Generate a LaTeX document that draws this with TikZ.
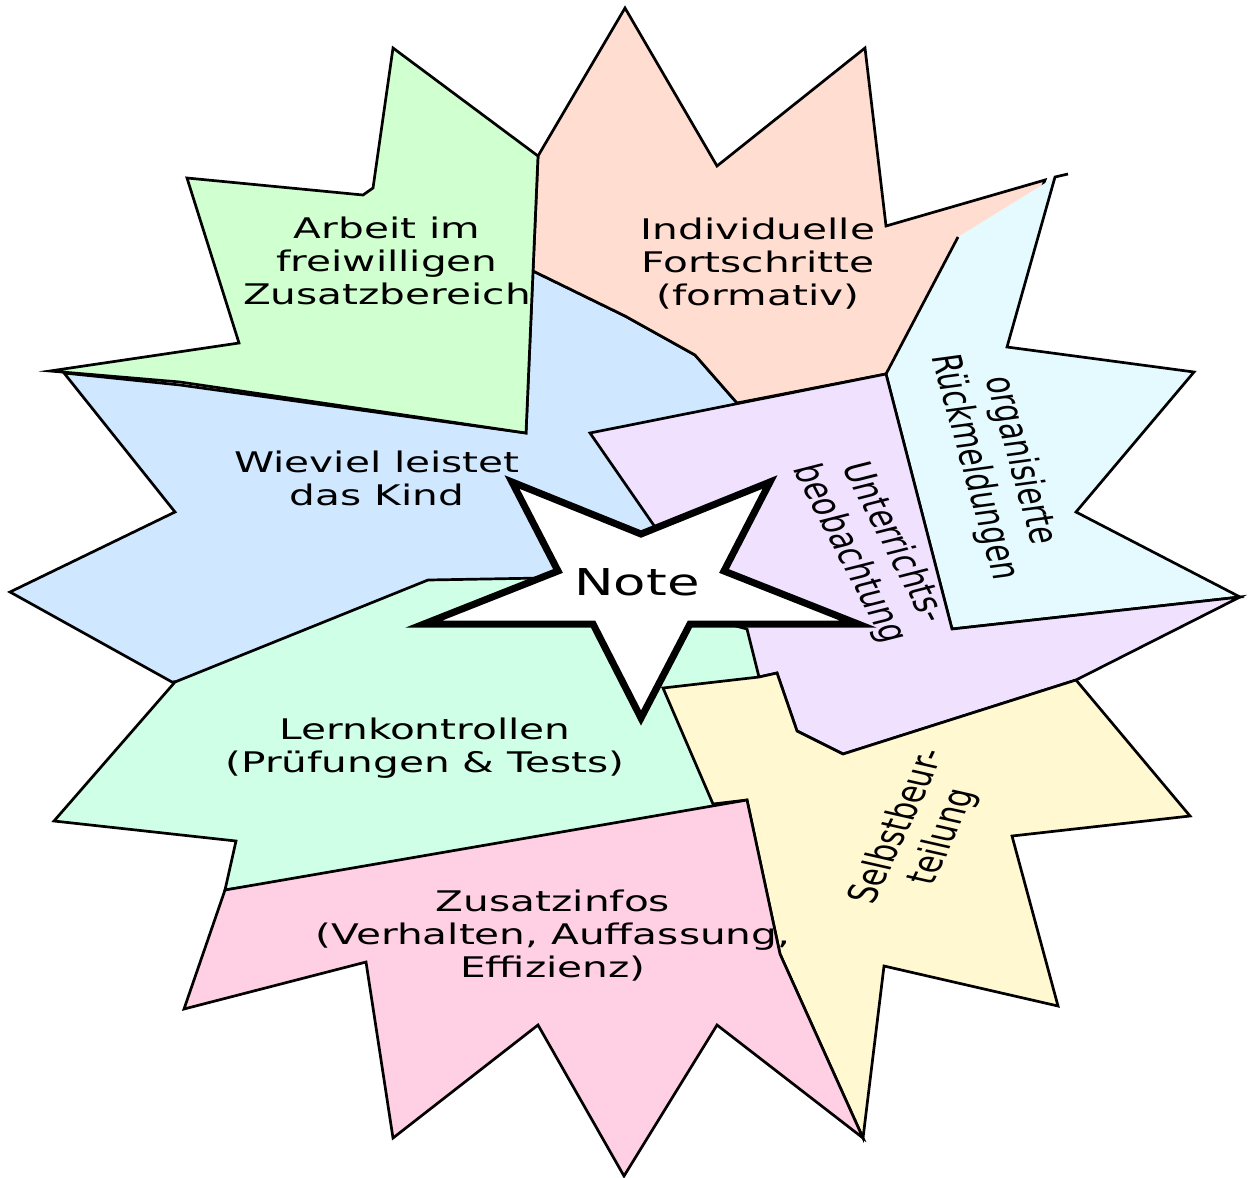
\documentclass[tikz,border=0pt]{standalone}
\usepackage{fontspec}
\setmainfont{DejaVu Sans}
\definecolor{arbeitgreen}{RGB}{208,255,208}
\definecolor{fortschrittpeach}{RGB}{255,221,208}
\definecolor{wievielblue}{RGB}{208,232,255}
\definecolor{rueckmeldcyan}{RGB}{229,250,255}
\definecolor{unterrichtlilac}{RGB}{240,226,255}
\definecolor{lernmint}{RGB}{208,255,232}
\definecolor{selbstyellow}{RGB}{255,248,208}
\definecolor{zusatzpink}{RGB}{255,208,228}
\begin{document}
\begin{tikzpicture}[x=0.5pt, y=-0.5pt,
    region/.style={draw=black, line width=1.35pt},
    lbl/.style={align=center, inner sep=0pt, font=\fontsize{14.2}{16.5}\selectfont, xscale=1.43, transform shape}]
  \useasboundingbox (0,0) rectangle (1251,1177);
  % Wieviel leistet das Kind
  \filldraw[region, fill=wievielblue] (64,373) -- (175,512) -- (10,592) -- (172,682) -- (600,640)
    -- (740,420) -- (737,403) -- (695,355) -- (625,316) -- (533,271) -- (526,433) -- (180,385) -- cycle;
  % Individuelle Fortschritte
  \filldraw[region, fill=fortschrittpeach] (538,156) -- (625,8) -- (717,166) -- (865,48) -- (886,226)
    -- (1045,180) -- (1000,300) -- (886,374) -- (737,403) -- (695,355) -- (625,316) -- (533,271) -- cycle;
  % Arbeit im Zusatzbereich
  \filldraw[region, fill=arbeitgreen] (538,156) -- (393,48) -- (373,188) -- (363,195) -- (187,178)
    -- (239,343) -- (50,371) -- (180,382) -- (526,433) -- cycle;
  % organisierte Rueckmeldungen
  \fill[rueckmeldcyan] (958,237) -- (1055,177) -- (1007,347) -- (1194,372) -- (1076,512)
    -- (1240,597) -- (952,629) -- (886,374) -- cycle;
  \draw[region] (958,237) -- (886,374) -- (952,629) -- (1240,597) -- (1076,512) -- (1194,372)
    -- (1007,347) -- (1055,177) -- (1068,174);
  % Unterrichtsbeobachtung
  \filldraw[region, fill=unterrichtlilac] (590,433) -- (886,374) -- (952,629) -- (1240,597) -- (1076,680)
    -- (843,754) -- (797,731) -- (777,673) -- (759,677) -- (700,600) -- (655,527) -- cycle;
  % Lernkontrollen
  \filldraw[region, fill=lernmint] (175,682) -- (428,580) -- (543,578) -- (640,600) -- (747,629)
    -- (759,677) -- (760,810) -- (225,890) -- (236,841) -- (54,821) -- cycle;
  % Selbstbeurteilung
  \filldraw[region, fill=selbstyellow] (663,688) -- (759,677) -- (777,673) -- (797,731) -- (843,754)
    -- (1076,680) -- (1190,816) -- (1012,836) -- (1058,1006) -- (884,966) -- (863,1138)
    -- (780,954) -- (747,800) -- (713,804) -- cycle;
  % Zusatzinfos
  \filldraw[region, fill=zusatzpink] (225,890) -- (747,800) -- (780,954) -- (863,1138) -- (717,1025)
    -- (624,1176) -- (538,1025) -- (393,1138) -- (366,962) -- (184,1009) -- cycle;
  % Stern
  \filldraw[line width=3.5pt, fill=white] (512,482) -- (641,534) -- (770,482) -- (724,571) -- (858,624)
    -- (690,624) -- (641,718) -- (593,624) -- (424,624) -- (558,571) -- cycle;

  \node[lbl] (arbeit) at (387,261) {Arbeit im\\freiwilligen\\Zusatzbereich};
  \node[lbl] (fortschritt) at (758,264) {Individuelle\\Fortschritte\\(formativ)};
  \node[lbl] (wieviel) at (377,478) {Wieviel leistet\\das Kind};
  \node[lbl] (lernkontr) at (425,748) {Lernkontrollen\\(Prüfungen \& Tests)};
  \node[lbl] (zusatz) at (553,936) {Zusatzinfos\\(Verhalten, Auffassung,\\Effizienz)};
  \node[lbl, rotate=-79] (rueckmeld) at (997,464) {organisierte\\Rückmeldungen};
  \node[lbl, rotate=-70] (unterricht) at (871,548) {Unterrichts-\\beobachtung};
  \node[lbl, rotate=72] (selbst) at (921,832) {Selbstbeur-\\teilung};
  \node[lbl, font=\fontsize{18.5}{22}\selectfont] (note) at (637,582) {Note};
\end{tikzpicture}
\end{document}
